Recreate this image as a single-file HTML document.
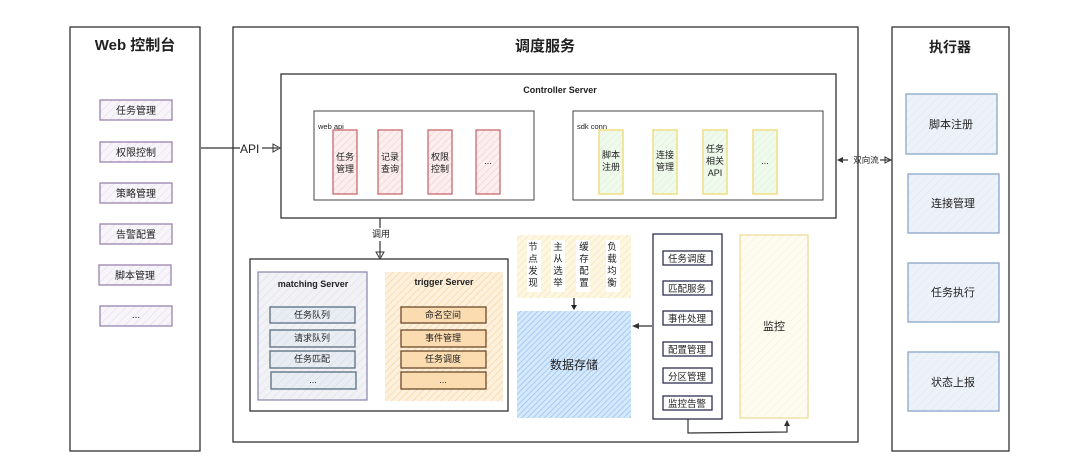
<!DOCTYPE html>
<html><head><meta charset="utf-8"><style>
body{margin:0;background:#fff}
svg text{font-family:"Liberation Sans","Noto Sans CJK SC",sans-serif;fill:#222}
</style></head><body>
<svg width="1080" height="461" viewBox="0 0 1080 461" xmlns="http://www.w3.org/2000/svg">
<defs>
<pattern id="hp" width="6" height="6" patternUnits="userSpaceOnUse" patternTransform="rotate(45)"><rect width="6" height="6" fill="#f7f5f9"/><line x1="0" y1="0" x2="0" y2="6" stroke="#e2dbe8" stroke-width="1"/></pattern>
<pattern id="hr" width="5" height="5" patternUnits="userSpaceOnUse" patternTransform="rotate(45)"><rect width="5" height="5" fill="#fbeeee"/><line x1="0" y1="0" x2="0" y2="5" stroke="#efc8c8" stroke-width="1"/></pattern>
<pattern id="hg" width="5" height="5" patternUnits="userSpaceOnUse" patternTransform="rotate(45)"><rect width="5" height="5" fill="#effaec"/><line x1="0" y1="0" x2="0" y2="5" stroke="#dbf0d5" stroke-width="1"/></pattern>
<pattern id="hm" width="6" height="6" patternUnits="userSpaceOnUse" patternTransform="rotate(45)"><rect width="6" height="6" fill="#f1f1f6"/><line x1="0" y1="0" x2="0" y2="6" stroke="#dcdce6" stroke-width="1"/></pattern>
<pattern id="ho" width="5" height="5" patternUnits="userSpaceOnUse" patternTransform="rotate(45)"><rect width="5" height="5" fill="#fdf1de"/><line x1="0" y1="0" x2="0" y2="5" stroke="#f6cf95" stroke-width="1.2"/></pattern>
<pattern id="hy" width="5" height="5" patternUnits="userSpaceOnUse" patternTransform="rotate(45)"><rect width="5" height="5" fill="#fdf6e3"/><line x1="0" y1="0" x2="0" y2="5" stroke="#f8e3b0" stroke-width="1.2"/></pattern>
<pattern id="hb" width="4" height="4" patternUnits="userSpaceOnUse" patternTransform="rotate(45)"><rect width="4" height="4" fill="#d6e8fb"/><line x1="0" y1="0" x2="0" y2="4" stroke="#8dbdf0" stroke-width="1.3"/></pattern>
<pattern id="hw" width="6" height="6" patternUnits="userSpaceOnUse" patternTransform="rotate(45)"><rect width="6" height="6" fill="#fefbf0"/><line x1="0" y1="0" x2="0" y2="6" stroke="#f8f0d6" stroke-width="1"/></pattern>
<pattern id="hx" width="6" height="6" patternUnits="userSpaceOnUse" patternTransform="rotate(45)"><rect width="6" height="6" fill="#edf2f9"/><line x1="0" y1="0" x2="0" y2="6" stroke="#dde6f2" stroke-width="1"/></pattern>
<pattern id="hs" width="6" height="6" patternUnits="userSpaceOnUse" patternTransform="rotate(45)"><rect width="6" height="6" fill="#e8edf3"/><line x1="0" y1="0" x2="0" y2="6" stroke="#d3dbe5" stroke-width="1"/></pattern>
</defs>

<!-- Web console -->
<rect x="70" y="27" width="130" height="424" fill="#fff" stroke="#333" stroke-width="1.3"/>
<text x="135" y="50" font-size="15" font-weight="bold" text-anchor="middle" fill="#1e2050">Web 控制台</text>
<g stroke="#9a84ad" stroke-width="1.3" fill="url(#hp)">
<rect x="100" y="100" width="72" height="20"/><rect x="100" y="142" width="72" height="20"/><rect x="100" y="183" width="72" height="20"/><rect x="100" y="224" width="72" height="20"/><rect x="99" y="265" width="72" height="20"/><rect x="100" y="306" width="72" height="20"/>
</g>
<g font-size="10" text-anchor="middle"><text x="136" y="114">任务管理</text><text x="136" y="156">权限控制</text><text x="136" y="197">策略管理</text><text x="136" y="238">告警配置</text><text x="135" y="279">脚本管理</text><text x="136" y="318" fill="#888">...</text></g>

<!-- API arrow -->
<line x1="201" y1="148" x2="240" y2="148" stroke="#333" stroke-width="1.2"/>
<text x="240" y="153" font-size="12">API</text>
<line x1="262" y1="148" x2="278" y2="148" stroke="#333" stroke-width="1.2"/>
<path d="M273 144 L280 148 L273 152 Z" fill="none" stroke="#333"/>

<!-- Dispatch service -->
<rect x="233" y="27" width="625" height="415" fill="none" stroke="#333" stroke-width="1.3"/>
<text x="545" y="51" font-size="15" font-weight="bold" text-anchor="middle">调度服务</text>

<rect x="281" y="74" width="555" height="144" fill="#fff" stroke="#333" stroke-width="1.3"/>
<text x="560" y="93" font-size="9" font-weight="bold" text-anchor="middle" fill="#1e2050">Controller Server</text>

<rect x="314" y="111" width="220" height="89" fill="#fff" stroke="#444"/>
<text x="318" y="129" font-size="7.5">web api</text>
<g stroke="#c96a6a" stroke-width="1.3" fill="url(#hr)">
<rect x="333" y="130" width="24" height="64"/><rect x="378" y="130" width="24" height="64"/><rect x="428" y="130" width="24" height="64"/><rect x="476" y="130" width="24" height="64"/>
</g>
<g font-size="9" text-anchor="middle"><text x="345" y="160">任务</text><text x="345" y="172">管理</text><text x="390" y="160">记录</text><text x="390" y="172">查询</text><text x="440" y="160">权限</text><text x="440" y="172">控制</text><text x="488" y="164" fill="#888">...</text></g>

<rect x="573" y="111" width="250" height="89" fill="#fff" stroke="#444"/>
<text x="577" y="129" font-size="7.5">sdk conn</text>
<g stroke="#f0dc7a" stroke-width="1.4" fill="url(#hg)">
<rect x="599" y="130" width="24" height="64"/><rect x="653" y="130" width="24" height="64"/><rect x="703" y="130" width="24" height="64"/><rect x="753" y="130" width="24" height="64"/>
</g>
<g font-size="9" text-anchor="middle"><text x="611" y="158">脚本</text><text x="611" y="170">注册</text><text x="665" y="158">连接</text><text x="665" y="170">管理</text><text x="715" y="152">任务</text><text x="715" y="164">相关</text><text x="715" y="176">API</text><text x="765" y="164" fill="#888">...</text></g>

<!-- 调用 arrow -->
<line x1="380" y1="218" x2="380" y2="228" stroke="#333" stroke-width="1.2"/>
<text x="381" y="237" font-size="9" text-anchor="middle">调用</text>
<line x1="380" y1="241" x2="380" y2="257" stroke="#333" stroke-width="1.2"/>
<path d="M376 252 L380 259 L384 252 Z" fill="none" stroke="#333"/>

<!-- lower box -->
<rect x="250" y="259" width="258" height="152" fill="#fff" stroke="#333" stroke-width="1.3"/>
<rect x="258" y="272" width="109" height="128" fill="url(#hm)" stroke="#8e8eae" stroke-width="1.3"/>
<text x="313" y="287" font-size="9" font-weight="bold" text-anchor="middle">matching Server</text>
<g stroke="#5a6e80" stroke-width="1.3" fill="url(#hs)">
<rect x="270" y="307" width="85" height="16"/><rect x="270" y="330" width="85" height="17"/><rect x="270" y="351" width="85" height="17"/><rect x="271" y="372" width="85" height="17"/>
</g>
<g font-size="9" text-anchor="middle"><text x="312" y="318">任务队列</text><text x="312" y="341">请求队列</text><text x="312" y="362">任务匹配</text><text x="313" y="383" fill="#666">...</text></g>

<rect x="385" y="272" width="118" height="129" fill="url(#ho)" stroke="none"/>
<text x="444" y="285" font-size="9" font-weight="bold" text-anchor="middle">trigger Server</text>
<g stroke="#6b4a2a" stroke-width="1.3" fill="#fbdcb0">
<rect x="401" y="307" width="85" height="16"/><rect x="401" y="330" width="85" height="17"/><rect x="401" y="351" width="85" height="17"/><rect x="401" y="372" width="85" height="17"/>
</g>
<g font-size="9" text-anchor="middle"><text x="443" y="318">命名空间</text><text x="443" y="341">事件管理</text><text x="443" y="362">任务调度</text><text x="443" y="383" fill="#666">...</text></g>

<!-- node group -->
<rect x="517" y="235" width="114" height="63" fill="url(#hy)"/>
<g fill="#fff"><rect x="527" y="240" width="14" height="52"/><rect x="551" y="240" width="14" height="52"/><rect x="576" y="240" width="14" height="52"/><rect x="606" y="240" width="14" height="52"/></g>
<g font-size="9.5" text-anchor="middle">
<text x="533" y="250">节</text><text x="533" y="262">点</text><text x="533" y="274">发</text><text x="533" y="286">现</text>
<text x="558" y="250">主</text><text x="558" y="262">从</text><text x="558" y="274">选</text><text x="558" y="286">举</text>
<text x="584" y="250">缓</text><text x="584" y="262">存</text><text x="584" y="274">配</text><text x="584" y="286">置</text>
<text x="612" y="250">负</text><text x="612" y="262">载</text><text x="612" y="274">均</text><text x="612" y="286">衡</text>
</g>
<line x1="574" y1="298" x2="574" y2="309" stroke="#222" stroke-width="1.3"/>
<path d="M571 305 L574 310 L577 305 Z" fill="#222"/>

<rect x="517" y="311" width="114" height="107" fill="url(#hb)"/>
<text x="574" y="369" font-size="12" text-anchor="middle" fill="#2a3a6a">数据存储</text>

<!-- panel -->
<line x1="652" y1="326" x2="634" y2="326" stroke="#333" stroke-width="1.2"/>
<path d="M639 323 L632 326 L639 329 Z" fill="#333"/>
<rect x="653" y="234" width="69" height="185" fill="#fff" stroke="#2e2e50" stroke-width="1.3"/>
<g stroke="#2e2e50" stroke-width="1.3" fill="#fff">
<rect x="663" y="251" width="49" height="14"/><rect x="663" y="281" width="49" height="14"/><rect x="663" y="311" width="49" height="14"/><rect x="663" y="342" width="49" height="14"/><rect x="663" y="368" width="49" height="15"/><rect x="663" y="396" width="49" height="14"/>
</g>
<g font-size="9.5" text-anchor="middle"><text x="687" y="262">任务调度</text><text x="687" y="292">匹配服务</text><text x="687" y="322">事件处理</text><text x="687" y="353">配置管理</text><text x="687" y="380">分区管理</text><text x="687" y="407">监控告警</text></g>

<rect x="740" y="235" width="68" height="183" fill="url(#hw)" stroke="#eedc9a" stroke-width="1.3"/>
<text x="774" y="330" font-size="11" text-anchor="middle">监控</text>
<path d="M688 419 L688 433 L787 432 L787 421" fill="none" stroke="#333" stroke-width="1.2"/>
<path d="M784 426 L787 420 L790 426 Z" fill="#333"/>

<!-- 双向流 -->
<line x1="838" y1="160" x2="848" y2="160" stroke="#333" stroke-width="1.2"/>
<path d="M843 157 L837 160 L843 163 Z" fill="#333"/>
<text x="866" y="163" font-size="8.5" text-anchor="middle">双向流</text>
<line x1="880" y1="160" x2="890" y2="160" stroke="#333" stroke-width="1.2"/>
<path d="M885 157 L891 160 L885 163 Z" fill="none" stroke="#333"/>

<!-- executor -->
<rect x="892" y="27" width="117" height="424" fill="#fff" stroke="#333" stroke-width="1.3"/>
<text x="950" y="52" font-size="14" font-weight="bold" text-anchor="middle">执行器</text>
<g stroke="#8aa6c8" stroke-width="1.3" fill="url(#hx)">
<rect x="906" y="94" width="91" height="60"/><rect x="908" y="174" width="91" height="59"/><rect x="908" y="263" width="91" height="59"/><rect x="908" y="352" width="91" height="59"/>
</g>
<g font-size="11" text-anchor="middle"><text x="951" y="128">脚本注册</text><text x="953" y="207">连接管理</text><text x="953" y="296">任务执行</text><text x="953" y="386">状态上报</text></g>
</svg>
</body></html>
